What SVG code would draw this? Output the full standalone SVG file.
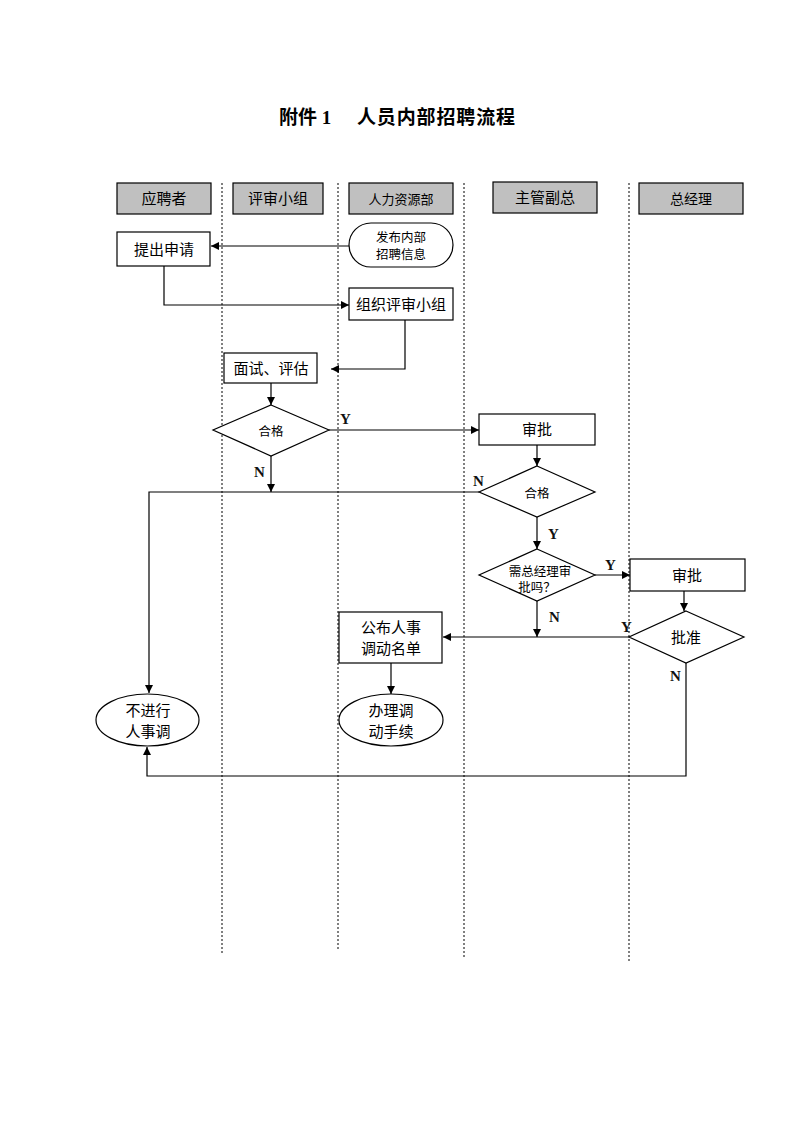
<svg xmlns="http://www.w3.org/2000/svg" width="794" height="1123" viewBox="0 0 794 1123">
<style>
.hdr{fill:#C0C0C0;stroke:#000;stroke-width:1.2}
.box{fill:#fff;stroke:#000;stroke-width:1.2}
.t{font-family:"Liberation Sans","Noto Sans CJK SC",sans-serif;font-size:15px;fill:#000;text-anchor:middle}
.ts{font-family:"Liberation Sans","Noto Sans CJK SC",sans-serif;font-size:12.5px;fill:#000;text-anchor:middle}
.yn{font-family:"Liberation Serif","Noto Sans CJK SC",serif;font-size:15px;font-weight:bold;fill:#111}
.ttl{font-family:"Liberation Serif","Noto Sans CJK SC",serif;font-size:19px;font-weight:bold;fill:#000}
.ln{fill:none;stroke:#000;stroke-width:1.2}
.div{fill:none;stroke:#000;stroke-width:1;stroke-dasharray:2,2}
</style>
<defs>
<marker id="ah" viewBox="0 0 10 10" refX="10" refY="5" markerWidth="8" markerHeight="8" markerUnits="userSpaceOnUse" orient="auto">
<path d="M0,0 L10,5 L0,10 z" fill="#000"/>
</marker>
</defs>
<rect width="794" height="1123" fill="#fff"/>
<g id="title">
<text class="ttl" x="279" y="124">附件 1</text>
<text class="ttl" x="357" y="124" textLength="158" lengthAdjust="spacing">人员内部招聘流程</text>
</g>
<g id="dividers">
<line class="div" x1="222" y1="183" x2="222" y2="954"/>
<line class="div" x1="338" y1="183" x2="338" y2="949"/>
<line class="div" x1="464" y1="183" x2="464" y2="957"/>
<line class="div" x1="629" y1="183" x2="629" y2="962"/>
</g>
<g id="lane-applicant"><rect class="hdr" x="117" y="183" width="94" height="31"/><text class="t" x="164" y="204">应聘者</text></g>
<g id="lane-panel"><rect class="hdr" x="233" y="183" width="90" height="31"/><text class="t" x="278" y="204">评审小组</text></g>
<g id="lane-hr"><rect class="hdr" x="349" y="183" width="104" height="31"/><text class="t" x="401" y="204" style="font-size:13px">人力资源部</text></g>
<g id="lane-vp"><rect class="hdr" x="493" y="182" width="104" height="31"/><text class="t" x="545" y="203">主管副总</text></g>
<g id="lane-gm"><rect class="hdr" x="639" y="183" width="104" height="31"/><text class="t" x="691" y="204" style="font-size:14px">总经理</text></g>

<g id="n-publish"><rect class="box" x="349" y="223" width="104" height="44" rx="22" ry="22"/><text class="ts" x="401" y="242">发布内部</text><text class="ts" x="401" y="259">招聘信息</text></g>
<g id="n-apply"><rect class="box" x="117" y="232" width="93" height="34"/><text class="t" x="164" y="255">提出申请</text></g>
<g id="n-organize"><rect class="box" x="349" y="288" width="104" height="32"/><text class="t" x="401" y="310">组织评审小组</text></g>
<g id="n-interview"><rect class="box" x="224" y="353" width="93" height="30"/><text class="t" x="271" y="374">面试、评估</text></g>
<g id="n-pass1"><polygon class="box" points="271,405 329,430 271,456 213,430"/><text class="ts" x="271" y="436">合格</text></g>
<g id="n-approve1"><rect class="box" x="479" y="414" width="116" height="31"/><text class="t" x="537" y="435">审批</text></g>
<g id="n-pass2"><polygon class="box" points="537,466 595,492 537,517 479,492"/><text class="ts" x="537" y="498">合格</text></g>
<g id="n-needgm"><polygon class="box" points="537,549 595,575 537,601 479,575"/><text class="ts" x="540" y="576">需总经理审</text><text class="ts" x="537" y="592">批吗？</text></g>
<g id="n-approve2"><rect class="box" x="630" y="559" width="115" height="32"/><text class="t" x="687" y="581">审批</text></g>
<g id="n-ratify"><polygon class="box" points="686,611 744,637 686,663 629,637"/><text class="t" x="686" y="643">批准</text></g>
<g id="n-announce"><rect class="box" x="339" y="612" width="103" height="51"/><text class="t" x="391" y="633">公布人事</text><text class="t" x="391" y="654">调动名单</text></g>
<g id="n-process"><ellipse class="box" cx="391" cy="720" rx="52" ry="26"/><text class="t" x="391" y="716">办理调</text><text class="t" x="391" y="737">动手续</text></g>
<g id="n-noadjust"><ellipse class="box" cx="147.5" cy="720" rx="51.5" ry="26"/><text class="t" x="148" y="716">不进行</text><text class="t" x="148" y="737">人事调</text></g>

<g id="connectors">
<path class="ln" d="M349,246 H211" marker-end="url(#ah)"/>
<path class="ln" d="M164,266 V305 H349" marker-end="url(#ah)"/>
<path class="ln" d="M405,320 V369 H331" marker-end="url(#ah)"/>
<path class="ln" d="M271,383 V405" marker-end="url(#ah)"/>
<path class="ln" d="M329,430 H479" marker-end="url(#ah)"/>
<path class="ln" d="M271,456 V492" marker-end="url(#ah)"/>
<path class="ln" d="M479,492 H149 V693" marker-end="url(#ah)"/>
<path class="ln" d="M537,445 V466" marker-end="url(#ah)"/>
<path class="ln" d="M537,517 V549" marker-end="url(#ah)"/>
<path class="ln" d="M595,575 H630" marker-end="url(#ah)"/>
<path class="ln" d="M684,591 V611" marker-end="url(#ah)"/>
<path class="ln" d="M537,601 V637" marker-end="url(#ah)"/>
<path class="ln" d="M629,637 H443" marker-end="url(#ah)"/>
<path class="ln" d="M391,663 V694" marker-end="url(#ah)"/>
<path class="ln" d="M686,663 V776 H147 V747" marker-end="url(#ah)"/>
<text class="yn" x="340" y="424">Y</text>
<text class="yn" x="254" y="477">N</text>
<text class="yn" x="473" y="486">N</text>
<text class="yn" x="548" y="539">Y</text>
<text class="yn" x="605" y="570">Y</text>
<text class="yn" x="549" y="622">N</text>
<text class="yn" x="621" y="632">Y</text>
<text class="yn" x="670" y="681">N</text>
</g>
</svg>
